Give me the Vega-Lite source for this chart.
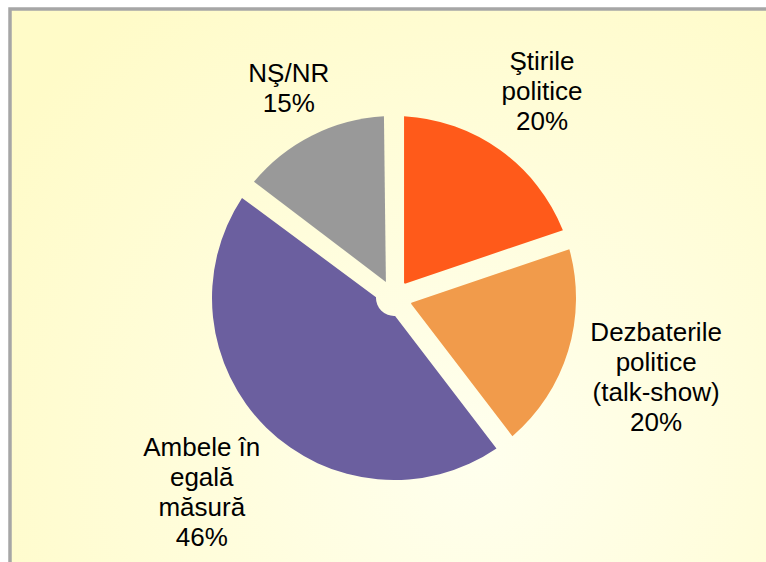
{
  "$schema": "https://vega.github.io/schema/vega-lite/v6.json",
  "width": 756,
  "height": 553,
  "autosize": {"type": "none"},
  "padding": {"left": 10, "top": 9, "right": 0, "bottom": 0},
  "background": "white",
  "view": {
    "stroke": "#A6A6A6",
    "strokeWidth": 3.5,
    "strokeDash": [756, 1309, 560],
    "fill": {
      "gradient": "radial",
      "x1": 0.62, "y1": 0.72, "r1": 0,
      "x2": 0.62, "y2": 0.72, "r2": 0.75,
      "stops": [
        {"offset": 0, "color": "#FFFFEE"},
        {"offset": 1, "color": "#FFFBC8"}
      ]
    }
  },
  "data": {
    "values": [
      {"rank": 1, "category": "Ştirile politice", "value": 20, "label": "Ştirile\npolitice\n20%"},
      {"rank": 2, "category": "Dezbaterile politice (talk-show)", "value": 20, "label": "Dezbaterile\npolitice\n(talk-show)\n20%"},
      {"rank": 3, "category": "Ambele în egală măsură", "value": 46, "label": "Ambele în\negală\nmăsură\n46%"},
      {"rank": 4, "category": "NŞ/NR", "value": 15, "label": "NŞ/NR\n15%"}
    ]
  },
  "encoding": {
    "theta": {"field": "value", "type": "quantitative", "stack": true},
    "order": {"field": "rank", "type": "quantitative"}
  },
  "layer": [
    {
      "mark": {"type": "arc", "outerRadius": 182, "innerRadius": 18, "padAngle": 0.11, "xOffset": 6, "yOffset": 12.5},
      "encoding": {
        "color": {
          "field": "category",
          "type": "nominal",
          "legend": null,
          "scale": {
            "domain": ["Ştirile politice", "Dezbaterile politice (talk-show)", "Ambele în egală măsură", "NŞ/NR"],
            "range": ["#FF5A1A", "#F19B4B", "#6B5F9F", "#999999"]
          }
        }
      }
    },
    {
      "mark": {
        "type": "text",
        "xOffset": 6,
        "yOffset": 12.5,
        "radius": {"expr": "194 + 20 * length(split(datum.label, '\\n'))"},
        "dy": {"expr": "-15 * (length(split(datum.label, '\\n')) - 1)"},
        "font": "Liberation Sans",
        "fontSize": 26,
        "lineHeight": 30,
        "lineBreak": "\n",
        "align": "center",
        "baseline": "middle",
        "color": "#000000"
      },
      "encoding": {
        "detail": {"field": "category", "type": "nominal"},
        "text": {"field": "label", "type": "nominal"}
      }
    }
  ]
}
